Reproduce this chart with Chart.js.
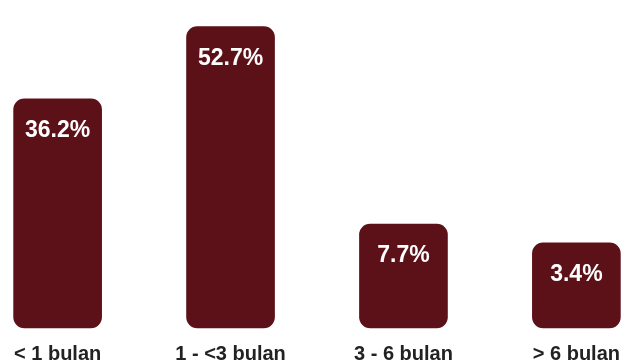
<!DOCTYPE html>
<html>
<head>
<meta charset="utf-8">
<script src="https://cdn.jsdelivr.net/npm/chart.js@4"></script>
<style>
  html, body { margin: 0; padding: 0; background: #fff; }
  #wrap { width: 634px; height: 361px; }
</style>
</head>
<body>
<div id="wrap"><canvas id="durasiChart"></canvas></div>
<script>
// Data
const categories = ['< 1 bulan', '1 - <3 bulan', '3 - 6 bulan', '> 6 bulan'];
const values = [36.2, 52.7, 7.7, 3.4];
const valueLabels = ['36.2%', '52.7%', '7.7%', '3.4%'];

const barColor = '#5c1119';

// value labels inside top of each bar
const topLabels = {
    id: 'topLabels',
    afterDatasetsDraw(chart) {
        const ctx = chart.ctx;
        const meta = chart.getDatasetMeta(0);
        ctx.save();
        ctx.fillStyle = '#ffffff';
        ctx.font = 'bold 23px "Liberation Sans", Arial, sans-serif';
        ctx.textAlign = 'center';
        ctx.textBaseline = 'middle';
        meta.data.forEach((bar, i) => {
            ctx.fillText(valueLabels[i], bar.x, bar.y + 32);
        });
        ctx.restore();
    }
};

new Chart(document.getElementById('durasiChart'), {
    type: 'bar',
    data: {
        labels: categories,
        datasets: [{
            data: values,
            backgroundColor: barColor,
            borderRadius: 11,
            borderSkipped: false,
            barThickness: 88,
            base: -16,
            clip: false
        }]
    },
    options: {
        responsive: true,
        maintainAspectRatio: false,
        animation: false,
        layout: { padding: { left: 56, right: 48, top: 12, bottom: -19 } },
        plugins: {
            legend: { display: false },
            tooltip: { enabled: false }
        },
        scales: {
            x: {
                offset: false,
                grid: { display: false, drawTicks: false },
                border: { display: false },
                ticks: {
                    color: '#222222',
                    padding: 14,
                    maxRotation: 0,
                    autoSkip: false,
                    font: { family: '"Liberation Sans", Arial, sans-serif', size: 20, weight: 'bold' }
                }
            },
            y: {
                display: false,
                min: -16,
                max: 56
            }
        }
    },
    plugins: [topLabels]
});
</script>
</body>
</html>
